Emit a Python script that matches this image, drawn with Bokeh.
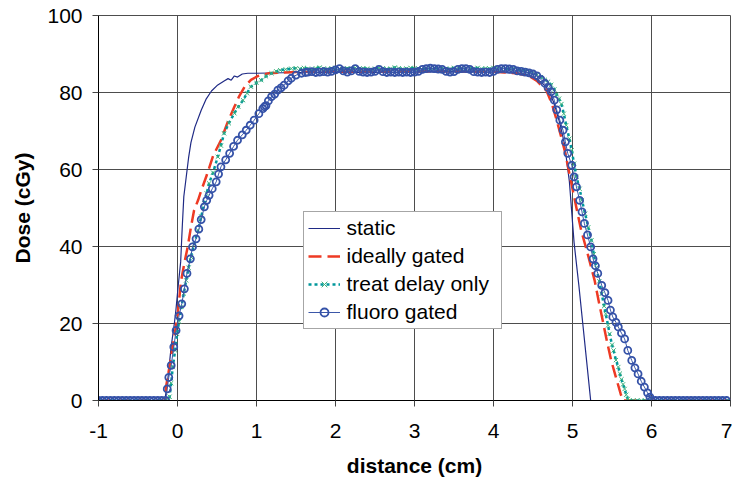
from bokeh.plotting import figure
from bokeh.models import Range1d, FixedTicker, Legend, LegendItem
from bokeh.embed import file_html
from bokeh.resources import INLINE

# ---------------- data ----------------
x_ticks = [-1, 0, 1, 2, 3, 4, 5, 6, 7]
y_ticks = [0, 20, 40, 60, 80, 100]

static_x = [-1.0, -0.16, -0.12, -0.08, -0.04, -0.02, 0.01, 0.04, 0.06, 0.08,
            0.11, 0.14, 0.17, 0.22, 0.30, 0.36, 0.43, 0.50, 0.59, 0.64,
            0.68, 0.72, 0.76, 0.82, 0.89, 1.0, 1.5, 2.0, 2.5, 3.0,
            3.5, 4.0, 4.3, 4.45, 4.55, 4.64, 4.70, 4.77, 4.84, 4.90,
            4.96, 5.02, 5.08, 5.13, 5.18, 5.23, 7.0]
static_y = [0, 0, 6, 14, 20, 23.5, 30, 36, 45, 53,
            58, 63, 67, 71, 75.4, 78.2, 80.4, 81.8, 83, 83.6,
            83.2, 84.3, 84.0, 84.8, 85.0, 85.0, 85.2, 85.3, 85.2, 85.3,
            85.4, 85.3, 85.0, 84.5, 83.5, 82.0, 80.5, 77.0, 72.0, 66.5,
            57.0, 41.0, 30.0, 20.0, 10.0, 0, 0]

ideal_x = [-1.0, -0.15, -0.145, -0.10, -0.06, 0.0, 0.045, 0.09, 0.13, 0.17,
           0.21, 0.26, 0.30, 0.37, 0.45, 0.55, 0.63, 0.72, 0.78, 0.85,
           0.93, 1.02, 1.16, 1.3, 1.5, 2.0, 2.5, 3.0, 3.5, 4.0,
           4.3, 4.45, 4.55, 4.62, 4.67, 4.74, 4.80, 4.85, 4.90, 4.96,
           5.0, 5.05, 5.11, 5.20, 5.28, 5.33, 5.39, 5.44, 5.49, 5.55,
           5.61, 5.64, 7.0]
ideal_y = [0, 0, 3.5, 9, 14, 22, 31, 36, 40, 45,
           49.4, 52, 54.5, 58.5, 63.5, 67.6, 72, 76.3, 79, 81.5,
           83.3, 84.3, 85, 85.2, 85.3, 85.5, 85.4, 85.5, 85.5, 85.4,
           85.0, 84.3, 83.0, 81.5, 80.5, 77.0, 72.8, 69.0, 65.0, 59.0,
           55.0, 50.0, 44.2, 37.5, 31.2, 26.0, 20.0, 15.0, 10.4, 6.0,
           1.7, 0, 0]

delay_x = [-1.0, -0.9, -0.8, -0.7, -0.6, -0.5, -0.4, -0.3, -0.2, -0.12,
           -0.10, -0.08, -0.06, -0.03, -0.005, 0.02, 0.05, 0.08, 0.11, 0.14,
           0.17, 0.21, 0.26, 0.30, 0.34, 0.37, 0.40, 0.45, 0.51, 0.55,
           0.59, 0.65, 0.72, 0.77, 0.83, 0.88, 0.93, 1.00, 1.06, 1.12,
           1.19, 1.25, 1.30, 1.37, 1.44,
           1.50, 1.55, 1.60, 1.65, 1.70, 1.75, 1.80, 1.85, 1.90, 1.95,
           2.00, 2.05, 2.10, 2.15, 2.20, 2.25, 2.30, 2.35, 2.40, 2.45,
           2.50, 2.55, 2.60, 2.65, 2.70, 2.75, 2.80, 2.85, 2.90, 2.95,
           3.00, 3.05, 3.10, 3.15, 3.20, 3.25, 3.30, 3.35, 3.40, 3.45,
           3.50, 3.55, 3.60, 3.65, 3.70, 3.75, 3.80, 3.85, 3.90, 3.95,
           4.00, 4.05, 4.10, 4.15, 4.20, 4.25, 4.30, 4.35, 4.40, 4.45,
           4.50, 4.55, 4.60, 4.65, 4.69, 4.73, 4.77, 4.80, 4.83, 4.86,
           4.89, 4.92, 4.96, 4.99, 5.02, 5.05, 5.09, 5.12, 5.16, 5.20,
           5.24, 5.27, 5.30, 5.34, 5.37, 5.40, 5.42, 5.45, 5.47, 5.50,
           5.52, 5.55, 5.58, 5.60, 5.62, 5.64, 5.66, 5.68, 5.70, 5.72,
           5.77, 5.82, 5.87, 5.92, 5.97, 6.1, 6.2, 6.3, 6.4, 6.5,
           6.6, 6.7, 6.8, 6.9, 7.0]
delay_y = [0, 0, 0, 0, 0, 0, 0, 0, 0, 0,
           1, 4.5, 8.7, 13, 17.3, 20.5, 24.3, 27.8, 31.2, 34.5,
           37.3, 40.5, 44.2, 47.8, 51.2, 53.8, 56.4, 59.2, 63.3, 66.2,
           69.4, 72.0, 74.6, 76.3, 78.0, 79.8, 81.5, 82.5, 83.2, 84.2,
           85.0, 85.5, 85.8, 86.0, 86.2,
           86.3, 86.1, 86.4, 86.2, 86.0, 86.3, 86.5, 86.2, 86.1, 86.3,
           86.4, 86.2, 86.0, 86.3, 86.2, 86.4, 86.1, 86.3, 86.2, 86.0,
           86.2, 86.4, 86.3, 86.1, 86.2, 86.5, 86.3, 86.1, 86.2, 86.4,
           86.3, 86.2, 86.0, 86.3, 86.1, 86.4, 86.2, 86.3, 86.1, 86.2,
           86.4, 86.3, 86.2, 86.0, 86.3, 86.2, 86.4, 86.1, 86.3, 86.2,
           86.4, 86.3, 86.2, 86.1, 86.3, 86.2, 86.0, 85.9, 85.7, 85.5,
           85.2, 84.6, 84.0, 83.3, 82.8, 82.0, 80.8, 79.5, 78.4, 77.0,
           74.5, 71.5, 68.0, 65.0, 61.5, 58.1, 55.0, 52.0, 48.5, 45.0,
           41.6, 38.0, 34.5, 31.0, 27.7, 24.5, 22.5, 19.5, 17.3, 14.5,
           13.0, 10.5, 8.7, 7.0, 5.5, 4.2, 3.0, 1.5, 0.4, 0,
           0, 0, 0, 0, 0, 0, 0, 0, 0, 0,
           0, 0, 0, 0, 0]

fluoro_x = [-1.0, -0.95, -0.9, -0.85, -0.8, -0.75, -0.7, -0.65, -0.6, -0.55,
            -0.5, -0.45, -0.4, -0.35, -0.3, -0.25, -0.2, -0.15,
            -0.13, -0.11, -0.08, -0.047, -0.018, 0.02, 0.054, 0.087, 0.12, 0.163,
            0.19, 0.235, 0.27, 0.30, 0.34, 0.37, 0.40, 0.44, 0.49, 0.52,
            0.55, 0.61, 0.66, 0.71, 0.76, 0.82, 0.87, 0.92, 0.97, 1.03,
            1.08, 1.10, 1.12, 1.15, 1.19, 1.23, 1.27, 1.31, 1.35, 1.40,
            1.44, 1.50, 1.57, 1.62,
            1.65, 1.70, 1.75, 1.80, 1.85, 1.90, 1.95, 2.00, 2.05, 2.10,
            2.15, 2.20, 2.25, 2.30, 2.35, 2.40, 2.45, 2.50, 2.55, 2.60,
            2.65, 2.70, 2.75, 2.80, 2.85, 2.90, 2.95, 3.00, 3.05, 3.10,
            3.15, 3.20, 3.25, 3.30, 3.35, 3.40, 3.45, 3.50, 3.55, 3.60,
            3.65, 3.70, 3.75, 3.80, 3.85, 3.90, 3.95, 4.00, 4.05, 4.10,
            4.15, 4.20, 4.25, 4.30, 4.35, 4.40, 4.45,
            4.50, 4.55, 4.60, 4.65, 4.69, 4.73, 4.77, 4.80, 4.84, 4.88,
            4.91, 4.94, 4.99, 5.02, 5.05, 5.09, 5.12, 5.15, 5.19, 5.23,
            5.26, 5.29, 5.32, 5.37, 5.41, 5.45, 5.48, 5.51, 5.55, 5.58,
            5.62, 5.66, 5.70, 5.75, 5.79, 5.83, 5.87, 5.91, 5.95, 5.98,
            6.0, 6.05, 6.10, 6.15, 6.20, 6.25, 6.30, 6.35, 6.40, 6.45,
            6.50, 6.55, 6.60, 6.65, 6.70, 6.75, 6.80, 6.85, 6.90, 6.95]
fluoro_y = [0, 0, 0, 0, 0, 0, 0, 0, 0, 0,
            0, 0, 0, 0, 0, 0, 0, 0,
            3, 6, 9.1, 13.9, 18.2, 22, 25.1, 29, 33, 36.8,
            39.9, 42, 44.5, 47, 50.3, 52, 53.3, 55, 56.8, 58.8,
            60.7, 62.5, 64.2, 66, 67.6, 69, 70.2, 71.5, 72.8, 74.5,
            75.8, 76.3, 76.6, 77.8, 78.9, 79.6, 80.6, 81.2, 81.9, 83,
            83.7, 84.5, 85, 85.2,
            85.3, 85.4, 85.2, 85.3, 85.4, 85.3, 85.5, 85.9, 86.2, 85.6,
            85.3, 85.6, 86.2, 85.5, 85.3, 85.2, 85.3, 85.5, 86.0, 85.4,
            85.2, 85.3, 85.2, 85.3, 85.2, 85.3, 85.2, 85.3, 85.5, 86.0,
            86.2, 86.3, 86.2, 86.1, 86.0, 85.5, 85.3, 85.4, 86.0, 86.2,
            86.2, 86.0, 85.4, 85.3, 85.2, 85.3, 85.2, 85.5, 86.0, 86.2,
            86.2, 86.1, 86.0, 85.6, 85.5, 85.3, 85.1,
            84.8, 84.3, 83.4, 82.4, 81.3, 80.2, 78, 75.5, 72.8, 70.2,
            67.2, 64.2, 61.1, 58.1, 55.5, 52, 49, 46, 43, 39.9,
            36.8, 35, 33, 29.9, 28, 26, 23.5, 21.7, 20.3, 19.1,
            17.5, 16, 13, 10.4, 8.5, 6.9, 5, 3.5, 2, 0.9,
            0, 0, 0, 0, 0, 0, 0, 0, 0, 0,
            0, 0, 0, 0, 0, 0, 0, 0, 0, 0]

series_names = ["static", "ideally gated", "treat delay only", "fluoro gated"]

# ---------------- figure ----------------
FONT = "Liberation Sans"
p = figure(width=732, height=482, output_backend="svg", toolbar_location=None,
           x_range=Range1d(-1, 7), y_range=Range1d(0, 100),
           min_border_left=98, min_border_right=2, min_border_top=15,
           min_border_bottom=82)
p.background_fill_color = "white"
p.border_fill_color = "white"
p.outline_line_color = "#4d4d4d"
p.outline_line_width = 1

for ax in (p.xaxis[0], p.yaxis[0]):
    ax.axis_line_color = "black"
    ax.axis_line_width = 1
    ax.major_tick_line_color = "#444444"
    ax.major_tick_out = 6
    ax.major_tick_in = 0
    ax.minor_tick_out = 0
    ax.minor_tick_in = 0
    ax.major_label_text_font = FONT
    ax.major_label_text_font_size = "21px"
    ax.major_label_text_color = "black"
    ax.axis_label_text_font = FONT
    ax.axis_label_text_font_size = "21px"
    ax.axis_label_text_font_style = "bold"
    ax.axis_label_text_color = "black"

p.xaxis.ticker = FixedTicker(ticks=x_ticks)
p.yaxis.ticker = FixedTicker(ticks=y_ticks)
p.xaxis.major_label_overrides = {-1: "-1"}
p.xaxis.axis_label = "distance (cm)"
p.yaxis.axis_label = "Dose (cGy)"
p.xaxis.major_label_standoff = 17
p.xaxis.axis_label_standoff = 13
p.yaxis.major_label_standoff = 10
p.yaxis.axis_label_standoff = 10

for g in (p.xgrid[0], p.ygrid[0]):
    g.grid_line_color = "#4d4d4d"
    g.grid_line_width = 1

r_static = p.line(static_x, static_y, line_color="#1F2A85", line_width=1.2)
r_ideal = p.line(ideal_x, ideal_y, line_color="#EE3A24", line_width=2.5,
                 line_dash="13 6")
r_delay_l = p.line(delay_x, delay_y, line_color="#00979B", line_width=2.5,
                   line_dash="3 3")
r_delay_m = p.scatter(delay_x, delay_y, marker="x", size=6,
                      line_color="#3DB27A", line_width=1)
r_fl_l = p.line(fluoro_x, fluoro_y, line_color="#3B57A8", line_width=1)
r_fl_m = p.scatter(fluoro_x, fluoro_y, marker="circle", size=7,
                   line_color="#3552A8", line_width=1.8, fill_alpha=0)

legend = Legend(items=[
    LegendItem(label=series_names[0], renderers=[r_static]),
    LegendItem(label=series_names[1], renderers=[r_ideal]),
    LegendItem(label=series_names[2], renderers=[r_delay_l, r_delay_m]),
    LegendItem(label=series_names[3], renderers=[r_fl_l, r_fl_m]),
], location=(204.5, 71))
legend.label_text_font = FONT
legend.label_text_font_size = "21px"
legend.label_text_color = "black"
legend.border_line_color = "#4d4d4d"
legend.border_line_width = 1
legend.background_fill_color = "white"
legend.background_fill_alpha = 1
legend.padding = 4
legend.margin = 0
legend.spacing = 4
legend.glyph_height = 20
legend.label_height = 20
legend.glyph_width = 32
legend.label_standoff = 7
legend.label_width = 150
p.add_layout(legend)

open("out.html", "w").write(file_html(p, INLINE))
